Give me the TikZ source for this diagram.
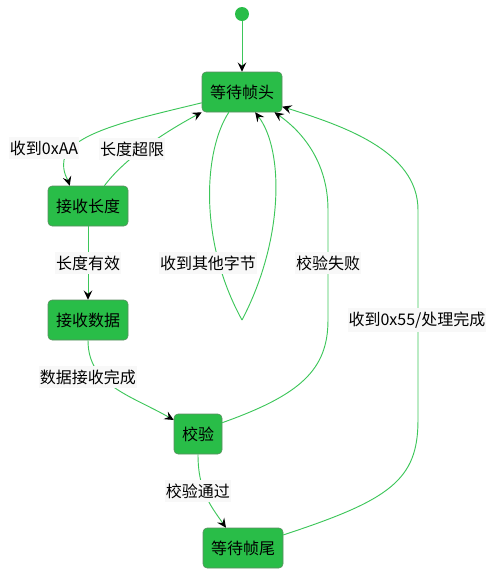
\documentclass[tikz,border=0pt]{standalone}
\usepackage{fontspec}
\usepackage{xcolor}
\usepackage{tikz}
\usetikzlibrary{arrows.meta}
\newfontfamily\cjk{Noto Sans CJK SC}
\definecolor{zhuangtai}{HTML}{29BD48}
\definecolor{biankuang}{HTML}{5E8C62}
\definecolor{xian}{HTML}{3DC65A}
\definecolor{biaoqian}{HTML}{F8F8F8}

\begin{document}
\begin{tikzpicture}[x=0.75pt,y=-0.75pt,
	state/.style={draw=biankuang,fill=zhuangtai,rounded corners=3pt,minimum width=60pt,minimum height=30pt,inner sep=0pt,font=\cjk\fontsize{12}{14}\selectfont},
	lab/.style={fill=biaoqian,inner xsep=0.5pt,inner ysep=2.5pt,font=\cjk\fontsize{12}{14}\selectfont},
	edge/.style={xian,line width=0.7pt,-{Stealth[black,length=7pt,width=6.5pt,inset=2.6pt]}}]
			\useasboundingbox (0,0) rectangle (495,576);
			% 画状态
			\node[circle,fill=zhuangtai,minimum size=10.5pt,inner sep=0pt] (start) at (242,14) {};
			\node[state] (head) at (242,92) {等待帧头};
			\node[state] (len) at (88,206) {接收长度};
			\node[state] (data) at (88,320) {接收数据};
			\node[state,minimum width=36pt] (chk) at (198,434) {校验};
			\node[state] (tail) at (243,548) {等待帧尾};
			% 画转移
			\draw[edge] (start) -- (head);
			\draw[edge] (head.195) .. controls (140,118) and (70,132) .. (64,160) .. controls (62,172) and (68,180) .. (len.132);
			\draw[edge] (len.51) .. controls (125,158) and (165,132) .. (head.south west);
			\draw[edge] (len) -- (data);
			\draw[edge] (data.south) .. controls (88,385) and (130,395) .. (chk.150);
			\draw[edge] (chk.south) .. controls (198,490) and (210,505) .. (tail.130);
			\coordinate (jian) at (242,320);
			\draw[xian,line width=0.7pt] (head.237) .. controls (204,150) and (198,240) .. (jian);
			\draw[edge] (jian) .. controls (284,240) and (284,150) .. (head.303);
			\draw[edge] (chk.25) .. controls (300,395) and (328,370) .. (328,320) -- (328,210) .. controls (328,160) and (300,130) .. (head.328);
			\draw[edge] (tail.18) .. controls (390,500) and (418,480) .. (418,420) -- (418,210) .. controls (418,150) and (340,125) .. (head.340);
			% 画标签
			\node[lab] (l1) at (44,148) {收到0xAA};
			\node[lab] (l2) at (132,149) {长度超限};
			\node[lab] (l3) at (88,263) {长度有效};
			\node[lab] (l4) at (208,263) {收到其他字节};
			\node[lab] (l5) at (328,263) {校验失败};
			\node[lab] (l6) at (417,320) {收到0x55/处理完成};
			\node[lab] (l7) at (88,377) {数据接收完成};
			\node[lab] (l8) at (198,491) {校验通过};
		\end{tikzpicture}
\end{document}
